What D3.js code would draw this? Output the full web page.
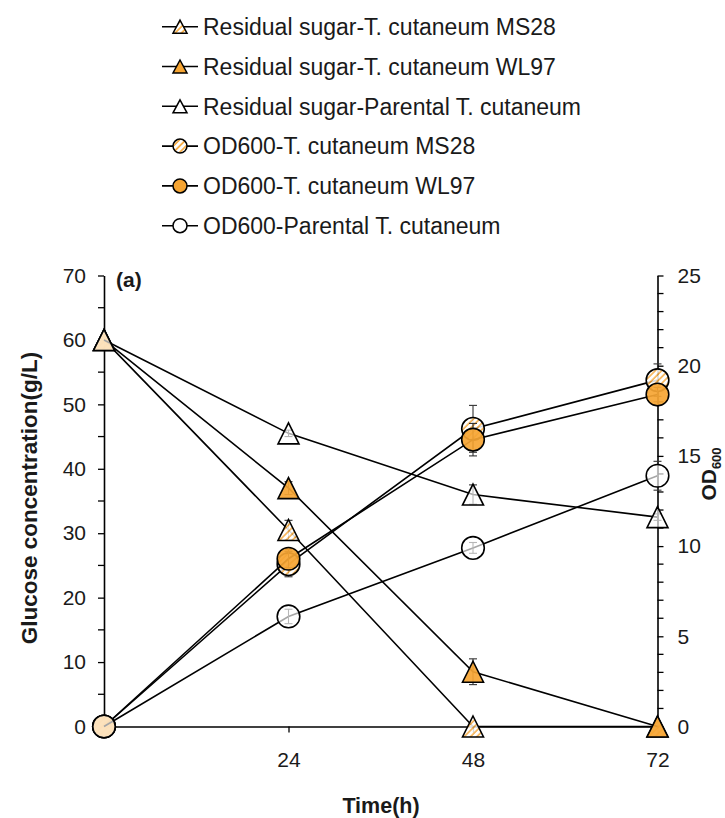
<!DOCTYPE html>
<html>
<head>
<meta charset="utf-8">
<script src="https://cdn.jsdelivr.net/npm/d3@7/dist/d3.min.js"></script>
<style>
  html, body { margin: 0; padding: 0; background: #fff; }
  svg { display: block; font-family: "Liberation Sans", Arial, sans-serif; }
</style>
</head>
<body>
<svg id="chart" width="725" height="818"></svg>
<script>
// ---------------- data ----------------
const time = [0, 24, 48, 72];
const xTickValues = [24, 48, 72];
const yLeftTicks = [0, 10, 20, 30, 40, 50, 60, 70];
const yRightTicks = [0, 5, 10, 15, 20, 25];

const sugarMS28 = [60, 30.5, 0, 0];
const sugarMS28Err = [0, 1.5, 0, 0];
const sugarWL97 = [60, 37, 8.5, 0];
const sugarWL97Err = [0, 1, 2, 0];
const sugarParental = [60, 45.5, 36, 32.5];
const sugarParentalErr = [0, 0.5, 1.5, 0.5];

const odMS28 = [0, 9.0, 16.5, 19.2];
const odMS28Err = [0, 0.7, 1.3, 0.9];
const odWL97 = [0, 9.3, 15.9, 18.4];
const odWL97Err = [0, 0.5, 0.9, 0.4];
const odParental = [0, 6.1, 9.9, 13.9];
const odParentalErr = [0, 0.4, 0.3, 0.8];

const seriesNames = [
  "Residual sugar-T. cutaneum MS28",
  "Residual sugar-T. cutaneum WL97",
  "Residual sugar-Parental T. cutaneum",
  "OD600-T. cutaneum MS28",
  "OD600-T. cutaneum WL97",
  "OD600-Parental T. cutaneum"
];

// ---------------- setup ----------------
const svg = d3.select("#chart");
const ORANGE = "#F6A533";

const defs = svg.append("defs");
const pat = defs.append("pattern")
  .attr("id", "hatch")
  .attr("patternUnits", "userSpaceOnUse")
  .attr("width", 4.5).attr("height", 4.5)
  .attr("patternTransform", "rotate(45)");
pat.append("rect").attr("width", 4.5).attr("height", 4.5).attr("fill", "#fff");
pat.append("line").attr("x1", 1).attr("y1", 0).attr("x2", 1).attr("y2", 4.5)
  .attr("stroke", ORANGE).attr("stroke-width", 1.6);

const x = d3.scaleLinear().domain([0, 72]).range([104, 657.5]);
const yL = d3.scaleLinear().domain([0, 70]).range([726.5, 275.5]);
const yR = d3.scaleLinear().domain([0, 25]).range([726.5, 275.5]);

const series = [
  { name: seriesNames[0], vals: sugarMS28, err: sugarMS28Err, y: yL, shape: "tri", fill: "url(#hatch)", fo: 0.85 },
  { name: seriesNames[1], vals: sugarWL97, err: sugarWL97Err, y: yL, shape: "tri", fill: ORANGE, fo: 0.92 },
  { name: seriesNames[2], vals: sugarParental, err: sugarParentalErr, y: yL, shape: "tri", fill: "#fff", fo: 0.65 },
  { name: seriesNames[3], vals: odMS28, err: odMS28Err, y: yR, shape: "circ", fill: "url(#hatch)", fo: 0.85 },
  { name: seriesNames[4], vals: odWL97, err: odWL97Err, y: yR, shape: "circ", fill: ORANGE, fo: 0.92 },
  { name: seriesNames[5], vals: odParental, err: odParentalErr, y: yR, shape: "circ", fill: "#fff", fo: 0.65 }
];

function triPath(w, h) {
  return `M0,${-h/2}L${w/2},${h/2}L${-w/2},${h/2}Z`;
}

// ---------------- axes ----------------
const axisG = svg.append("g");
const fontTick = "21px";

// left axis
const leftAxis = d3.axisLeft(yL).tickValues(yLeftTicks).tickSize(6).tickSizeOuter(0).tickPadding(12);
const gl = axisG.append("g").attr("transform", `translate(${x(0)},0)`).call(leftAxis);
gl.selectAll(".tick text").style("font-size", fontTick).attr("fill", "#1a1a1a");
const leftMinor = d3.range(5, 70, 10);
gl.selectAll(".minor").data(leftMinor).enter().append("line")
  .attr("x1", -6).attr("x2", 0).attr("y1", d => yL(d)).attr("y2", d => yL(d))
  .attr("stroke", "#000").attr("stroke-width", 1.3);

// right axis
const rightAxis = d3.axisRight(yR).tickValues(yRightTicks).tickSize(6).tickSizeOuter(0).tickPadding(14);
const gr = axisG.append("g").attr("transform", `translate(${x(72)},0)`).call(rightAxis);
gr.selectAll(".tick text").style("font-size", fontTick).attr("fill", "#1a1a1a");
const rightMinor = d3.range(1, 25).filter(d => d % 5 !== 0);
gr.selectAll(".minor").data(rightMinor).enter().append("line")
  .attr("x1", 0).attr("x2", 6).attr("y1", d => yR(d)).attr("y2", d => yR(d))
  .attr("stroke", "#000").attr("stroke-width", 1.3);

// bottom axis
const bottomAxis = d3.axisBottom(x).tickValues(xTickValues).tickSize(6).tickSizeOuter(0).tickPadding(20);
const gb = axisG.append("g").attr("transform", `translate(0,${yL(0)})`).call(bottomAxis);
gb.selectAll(".tick text").style("font-size", fontTick).attr("fill", "#1a1a1a");

[gl, gr, gb].forEach(g => {
  g.select(".domain").attr("stroke", "#000").attr("stroke-width", 1.6);
  g.selectAll(".tick line").attr("stroke", "#000").attr("stroke-width", 1.3);
  g.selectAll("text").style("font-family", "'Liberation Sans', Arial, sans-serif");
});

// ---------------- series ----------------
const plotG = svg.append("g");
series.forEach(s => {
  const pts = time.map((t, i) => ({ t, v: s.vals[i], e: s.err[i] }));
  const line = d3.line().x(d => x(d.t)).y(d => s.y(d.v));
  plotG.append("path").datum(pts).attr("d", line)
    .attr("fill", "none").attr("stroke", "#000").attr("stroke-width", 1.6);
  // error bars
  const eb = plotG.append("g").attr("stroke", "#333").attr("stroke-width", 1.1);
  pts.filter(d => d.e > 0).forEach(d => {
    const cx = x(d.t), y1 = s.y(d.v + d.e), y2 = s.y(d.v - d.e);
    eb.append("line").attr("x1", cx).attr("x2", cx).attr("y1", y1).attr("y2", y2);
    eb.append("line").attr("x1", cx - 4).attr("x2", cx + 4).attr("y1", y1).attr("y2", y1);
    eb.append("line").attr("x1", cx - 4).attr("x2", cx + 4).attr("y1", y2).attr("y2", y2);
  });
  // markers
  const mg = plotG.append("g");
  pts.forEach(d => {
    if (s.shape === "tri") {
      mg.append("path").attr("d", triPath(21, 21))
        .attr("transform", `translate(${x(d.t)},${s.y(d.v)})`)
        .attr("fill", s.fill).attr("fill-opacity", s.fo)
        .attr("stroke", "#000").attr("stroke-width", 1.6).attr("stroke-linejoin", "miter");
    } else {
      mg.append("circle").attr("cx", x(d.t)).attr("cy", s.y(d.v)).attr("r", 11.3)
        .attr("fill", s.fill).attr("fill-opacity", s.fo)
        .attr("stroke", "#000").attr("stroke-width", 1.6);
    }
  });
});

// ---------------- titles ----------------
svg.append("text").attr("x", 116).attr("y", 287)
  .style("font-size", "21px").style("font-weight", "bold").attr("fill", "#1a1a1a")
  .text("(a)");

svg.append("text")
  .attr("transform", `translate(37,498) rotate(-90)`)
  .attr("text-anchor", "middle")
  .style("font-size", "22.5px").style("font-weight", "bold").attr("fill", "#1a1a1a")
  .text("Glucose concentration(g/L)");

svg.append("text").attr("x", 381).attr("y", 813)
  .attr("text-anchor", "middle")
  .style("font-size", "21.5px").style("font-weight", "bold").attr("fill", "#1a1a1a")
  .text("Time(h)");

const odT = svg.append("text")
  .attr("transform", `translate(716,474) rotate(-90)`)
  .attr("text-anchor", "middle")
  .style("font-weight", "bold").attr("fill", "#1a1a1a");
odT.append("tspan").style("font-size", "21px").text("OD");
odT.append("tspan").style("font-size", "13px").attr("dy", 5).text("600");

// ---------------- legend ----------------
const lg = svg.append("g");
series.forEach((s, i) => {
  const cy = 26.7 + i * 39.8;
  const row = lg.append("g").attr("transform", `translate(0,${cy})`);
  row.append("line").attr("x1", 162).attr("x2", 198).attr("y1", 0).attr("y2", 0)
    .attr("stroke", "#000").attr("stroke-width", 1.6);
  if (s.shape === "tri") {
    row.append("path").attr("d", triPath(14, 13)).attr("transform", "translate(180,0)")
      .attr("fill", s.fill).attr("stroke", "#000").attr("stroke-width", 1.5);
  } else {
    row.append("circle").attr("cx", 180).attr("cy", 0).attr("r", 7)
      .attr("fill", s.fill).attr("stroke", "#000").attr("stroke-width", 1.5);
  }
  row.append("text").attr("x", 203).attr("y", 0).attr("dy", "0.36em")
    .style("font-size", "23px").attr("fill", "#1a1a1a")
    .text(s.name);
});
</script>
</body>
</html>
